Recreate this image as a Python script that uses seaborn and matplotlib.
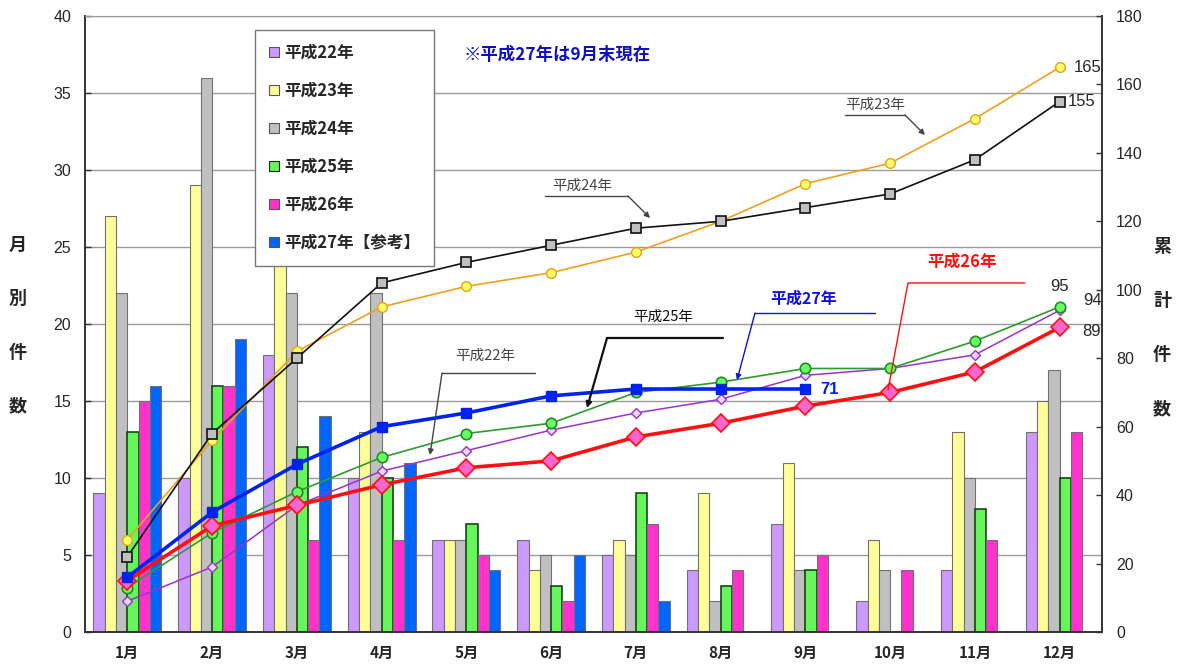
import numpy as np
import pandas as pd
import seaborn as sns
import matplotlib.pyplot as plt
from matplotlib.patches import Patch
from matplotlib.ticker import FixedLocator

sns.set_style("white")
plt.rcParams["font.family"] = ["Noto Sans CJK JP", "DejaVu Sans"]

months = ["1月", "2月", "3月", "4月", "5月", "6月", "7月", "8月", "9月", "10月", "11月", "12月"]
years = ["平成22年", "平成23年", "平成24年", "平成25年", "平成26年", "平成27年【参考】"]

# monthly counts
h22 = [9, 10, 18, 10, 6, 6, 5, 4, 7, 2, 4, 13]
h23 = [27, 29, 26, 13, 6, 4, 6, 9, 11, 6, 13, 15]
h24 = [22, 36, 22, 22, 6, 5, 5, 2, 4, 4, 10, 17]
h25 = [13, 16, 12, 10, 7, 3, 9, 3, 4, 0, 8, 10]
h26 = [15, 16, 6, 6, 5, 2, 7, 4, 5, 4, 6, 13]
h27 = [16, 19, 14, 11, 4, 5, 2, 0, 0]  # 9月末現在

bar_colors = ["#CC99FF", "#FFFF99", "#C0C0C0", "#66F55A", "#FF33CC", "#0066FF"]

series = [h22, h23, h24, h25, h26, h27]
rows = []
for yr, vals in zip(years, series):
    for m, v in zip(months, vals):
        rows.append((m, yr, v))
df = pd.DataFrame(rows, columns=["month", "year", "count"])

fig = plt.figure(figsize=(11.85, 6.66), dpi=100)
ax = fig.add_axes([85 / 1185, 1 - 632 / 666, 1017 / 1185, 616 / 666])

sns.barplot(data=df, x="month", y="count", hue="year", order=months, hue_order=years,
            palette=dict(zip(years, bar_colors)), width=0.8, errorbar=None, saturation=1,
            edgecolor="#707070", linewidth=0.8, legend=False, ax=ax)
for bar in ax.containers[3]:
    bar.set_edgecolor("#103010")
    bar.set_linewidth(1.1)

num_font = dict(family=["Liberation Sans", "DejaVu Sans"], size=11.5)

ax.set_ylim(0, 40)
ax.set_xlim(-0.5, 11.5)
ax.set_yticks(range(0, 41, 5))
ax.set_yticklabels([str(v) for v in range(0, 41, 5)], fontdict=num_font)
ax.yaxis.grid(True, color="#9a9a9a", lw=1)
ax.set_axisbelow(True)
ax.set_xlabel("")
ax.set_ylabel("")
ax.tick_params(axis="x", which="major", length=0, pad=9, labelsize=11)
ax.xaxis.set_minor_locator(FixedLocator(np.arange(-0.5, 12, 1)))
ax.tick_params(axis="x", which="minor", direction="in", length=4, width=1, color="#333333")
ax.tick_params(axis="y", direction="in", length=4, width=1, pad=10, color="#333333")
for lab in ax.get_xticklabels():
    lab.set_fontweight("bold")
for s in ["left", "bottom"]:
    ax.spines[s].set_color("#333333")
    ax.spines[s].set_linewidth(1.4)
ax.spines["top"].set_color("#9a9a9a")
ax.spines["right"].set_visible(False)

# cumulative lines on the right axis
ax2 = ax.twinx()
ax2.set_ylim(0, 180)
ax2.set_yticks(range(0, 181, 20))
ax2.set_yticklabels([str(v) for v in range(0, 181, 20)], fontdict=num_font)
ax2.tick_params(axis="y", direction="in", length=4, width=1, pad=10, color="#333333")
ax2.spines["right"].set_color("#333333")
ax2.spines["right"].set_linewidth(1.4)
for s in ["left", "top", "bottom"]:
    ax2.spines[s].set_visible(False)

line_styles = [
    dict(color="#9933CC", linewidth=1.1, marker="D", markersize=5, markerfacecolor="#EAD6FF", markeredgecolor="#9933CC", markeredgewidth=1),
    dict(color="#F0A020", linewidth=1.2, marker="o", markersize=7, markerfacecolor="#FFFF66", markeredgecolor="#E8A020", markeredgewidth=1),
    dict(color="#111111", linewidth=1.2, marker="s", markersize=7, markerfacecolor="#C0C0C0", markeredgecolor="#111111", markeredgewidth=1.2),
    dict(color="#2E9A2E", linewidth=1.2, marker="o", markersize=7.5, markerfacecolor="#66FF66", markeredgecolor="#228B22", markeredgewidth=1.2),
    dict(color="#FF1010", linewidth=2.6, marker="D", markersize=9, markerfacecolor="#FF66CC", markeredgecolor="#FF1010", markeredgewidth=1.2),
    dict(color="#0022EE", linewidth=2.6, marker="s", markersize=7, markerfacecolor="#0022EE", markeredgecolor="#0022EE", markeredgewidth=1),
]
cums = []
for vals, st in zip(series, line_styles):
    cum = np.cumsum(vals)
    cums.append(cum)
    sns.lineplot(x=np.arange(len(cum)), y=cum, ax=ax2, **st)
ax2.set_xlim(-0.5, 11.5)
ax2.set_ylabel("")

# end-of-line value labels
label_offsets = [(17, 7), (10, 0), (6, 0), (0, 15), (16, -3), (11, 0)]
for k, (cum, off) in enumerate(zip(cums, label_offsets)):
    kw = dict(fontsize=12, va="center", ha="left" if off[0] > 0 else "center",
              family=["Liberation Sans", "DejaVu Sans"])
    if k == 5:
        kw.update(color="#0022EE", fontweight="bold")
    ax2.annotate(str(cum[-1]), (len(cum) - 1, cum[-1]), xytext=off,
                 textcoords="offset points", **kw)


def px(x, y):
    # pixel position in the figure -> data coords of ax2
    return ((x - 85) / 84.75 - 0.5, (632 - y) / 3.4222)


def callout(text, tpos, path, color, lw=1.0, bold=False, fs=10.5, arrow=True):
    ax2.text(*px(*tpos), text, color=color, fontsize=fs, ha="center", va="center",
             fontweight="bold" if bold else "normal")
    pts = [px(*p) for p in path]
    xs, ys = zip(*pts[:-1]) if arrow else zip(*pts)
    ax2.plot(xs, ys, color=color, lw=lw)
    if arrow:
        ax2.annotate("", xy=pts[-1], xytext=pts[-2],
                     arrowprops=dict(arrowstyle="-|>", color=color, lw=lw,
                                     mutation_scale=8, shrinkA=0, shrinkB=0))


callout("平成24年", (582, 186), [(545, 196), (628, 196), (650, 218)], "#444444")
callout("平成23年", (875, 105), [(845, 115), (905, 115), (925, 135)], "#444444")
callout("平成22年", (485, 356), [(535, 373), (442, 373), (430, 455)], "#444444")
callout("平成25年", (663, 317), [(723, 338), (607, 338), (587, 408)], "#111111", lw=1.6)
callout("平成27年", (804, 299), [(875, 313), (755, 313), (737, 380)], "#1010E0", bold=True, fs=11.5)
callout("平成26年", (962, 262), [(1025, 283), (908, 283), (888, 390)], "#FF1010", bold=True, fs=12, arrow=False)

ax2.text(0.372, 0.937, "※平成27年は9月末現在", transform=ax2.transAxes, color="#1010C0",
         fontsize=12.5, fontweight="bold", ha="left", va="center")

handles = [Patch(facecolor=c, edgecolor="#555555" if i != 3 else "#103010", linewidth=0.8)
           for i, c in enumerate(bar_colors)]
leg = ax2.legend(handles, years, loc="upper left", bbox_to_anchor=(0.167, 0.978),
                 frameon=True, fancybox=False, framealpha=1, edgecolor="#777777",
                 prop=dict(size=12, weight="bold"), labelspacing=1.2,
                 handlelength=0.6, handleheight=0.6, handletextpad=0.3,
                 borderpad=0.85, borderaxespad=0)
leg.get_frame().set_linewidth(1)
leg.set_zorder(10)

for i, ch in enumerate("月別件数"):
    fig.text(18 / 1185, 1 - (245 + i * 53.5) / 666, ch, fontsize=13, fontweight="bold",
             ha="center", va="center")
for i, ch in enumerate("累計件数"):
    fig.text(1162 / 1185, 1 - (247 + i * 54) / 666, ch, fontsize=13, fontweight="bold",
             ha="center", va="center")

fig.savefig("out.png", dpi=100)
